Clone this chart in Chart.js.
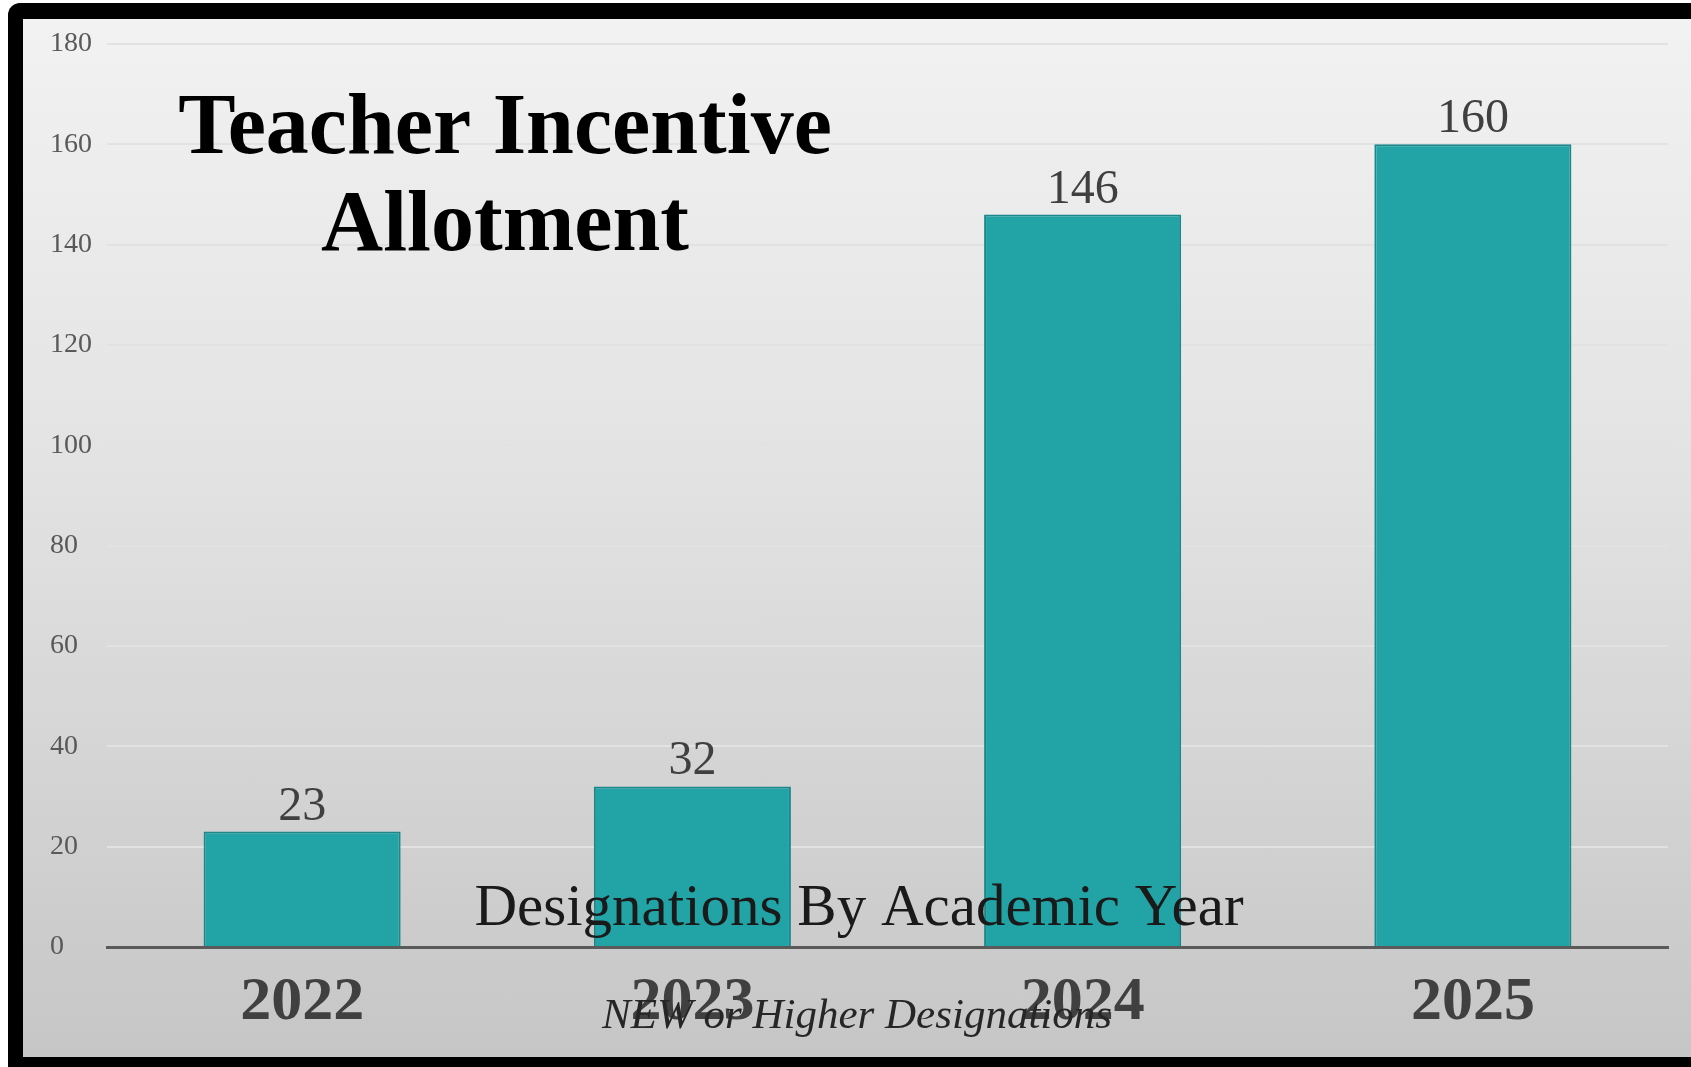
<!DOCTYPE html>
<html>
<head>
<meta charset="utf-8">
<script src="https://cdn.jsdelivr.net/npm/chart.js@4.4.1/dist/chart.umd.min.js"></script>
<style>
  html, body { margin: 0; padding: 0; background: #fff; overflow: hidden; }
  #marco {
    position: absolute; left: 8px; top: 3px; width: 1720px; height: 1100px;
    background: #000; border-radius: 12px;
  }
  #panel {
    position: absolute; left: 23px; top: 19px; width: 1668px; height: 1038px;
    background: linear-gradient(to bottom, #f2f2f2 0%, #e2e2e2 45%, #c6c6c6 100%);
  }
  #grafico { display: block; }
</style>
</head>
<body>
<div id="marco"></div>
<div id="panel">
  <canvas id="grafico" width="1668" height="1038"></canvas>
</div>
<script>
// ============================
// Datos
// ============================
const anios = ["2022", "2023", "2024", "2025"];
const designaciones = [23, 32, 146, 160];
const ticksY = [0, 20, 40, 60, 80, 100, 120, 140, 160, 180];

const tituloLineas = ["Teacher Incentive", "Allotment"];
const subtitulo = "Designations By Academic Year";
const nota = "NEW or Higher Designations";

const SERIF = "'Liberation Serif', 'Times New Roman', serif";

// ============================
// Etiquetas de valor + textos
// ============================
const textosPlugin = {
  id: "textos",
  afterDatasetsDraw(chart) {
    const ctx = chart.ctx;
    const meta = chart.getDatasetMeta(0);
    ctx.save();
    ctx.font = "48px " + SERIF;
    ctx.fillStyle = "#404040";
    ctx.textAlign = "center";
    ctx.textBaseline = "alphabetic";
    meta.data.forEach((bar, i) => {
      ctx.fillText(String(designaciones[i]), bar.x, bar.y - 12);
    });
    ctx.restore();
  },
  afterDraw(chart) {
    const ctx = chart.ctx;
    ctx.save();
    ctx.textAlign = "center";
    ctx.textBaseline = "alphabetic";

    // titulo
    ctx.fillStyle = "#000";
    ctx.font = "bold 86px " + SERIF;
    ctx.fillText(tituloLineas[0], 482, 134);
    ctx.fillText(tituloLineas[1], 482, 231);

    // subtitulo sobre las barras
    ctx.fillStyle = "#1a1a1a";
    ctx.font = "59px " + SERIF;
    ctx.fillText(subtitulo, 836, 906);

    // nota sobre los años
    ctx.fillStyle = "#262626";
    ctx.font = "italic 43px " + SERIF;
    ctx.fillText(nota, 834, 1009);
    ctx.restore();
  }
};

new Chart(document.getElementById("grafico"), {
  type: "bar",
  data: {
    labels: anios,
    datasets: [{
      data: designaciones,
      backgroundColor: "#22a3a6",
      borderColor: "#1b878a",
      borderWidth: 2,
      categoryPercentage: 1,
      barPercentage: 0.505
    }]
  },
  options: {
    responsive: false,
    animation: false,
    devicePixelRatio: 1,
    layout: { padding: { left: 27, top: 25, right: 23, bottom: 0 } },
    plugins: {
      legend: { display: false },
      tooltip: { enabled: false },
      title: { display: false }
    },
    scales: {
      x: {
        grid: { display: false, drawTicks: false },
        border: { display: true, color: "#5a5a5a", width: 3 },
        ticks: {
          color: "#404040",
          padding: 19,
          font: { family: SERIF, size: 62, weight: "bold" }
        },
        afterFit(scale) { scale.height = 110; }
      },
      y: {
        min: 0,
        max: 180,
        afterBuildTicks(scale) {
          scale.ticks = ticksY.map(v => ({ value: v }));
        },
        grid: { color: "#e2e2e2", lineWidth: 2, drawTicks: false },
        border: { display: false },
        ticks: {
          color: "#595959",
          crossAlign: "far",
          font: { family: SERIF, size: 28 }
        },
        afterFit(scale) { scale.width = 57; }
      }
    }
  },
  plugins: [textosPlugin]
});
</script>
</body>
</html>
